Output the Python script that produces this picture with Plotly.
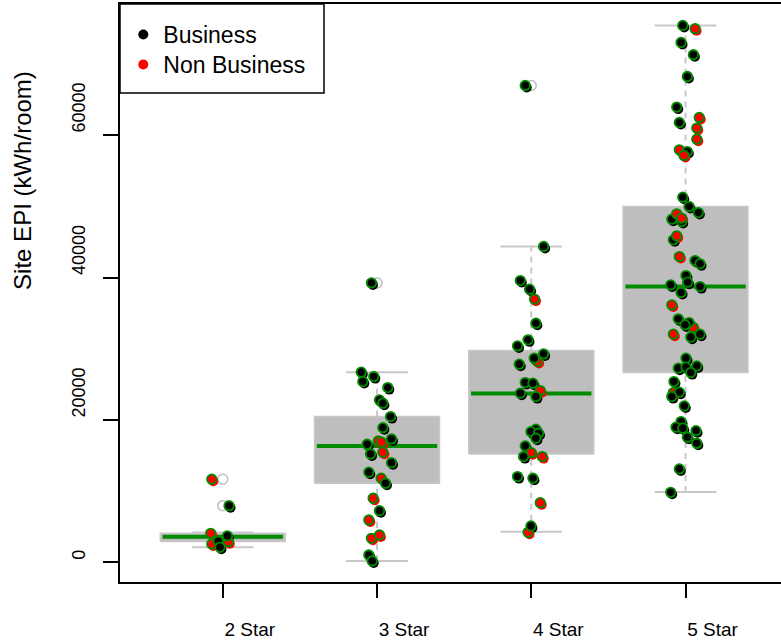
import plotly.graph_objects as go

# ---------------- data ----------------
categories = ["2 Star", "3 Star", "4 Star", "5 Star"]
positions = [1, 2, 3, 4]

# boxplot statistics per category
box_q1 = [2950, 11130, 15250, 26670]
box_median = [3625, 16370, 23720, 38760]
box_q3 = [4100, 20490, 29760, 50000]
whisker_low = [2135, 210, 4330, 9910]
whisker_high = [4200, 26730, 44380, 75430]

# outliers drawn by the boxplot (open grey circles)
outlier_pos = [1, 1, 2, 3]
outlier_value = [11690, 7980, 39270, 67000]

# jittered points: jitter (category units), value, group (B = Business, N = Non Business)
star2_jitter = [-0.071, 0.041, -0.078, -0.071, 0.036, 0.030, -0.029, -0.018]
star2_value = [11690, 7980, 4100, 2600, 2920, 3730, 3020, 2135]
star2_group = ["N", "B", "N", "N", "N", "B", "B", "B"]

star3_jitter = [-0.036, -0.102, -0.092, -0.021, 0.070, 0.016, 0.038, 0.088, 0.038, 0.094,
                -0.064, -0.042, 0.008, 0.029, 0.038, 0.094, -0.053, 0.027, 0.055, -0.025,
                0.016, -0.053, -0.036, 0.016, -0.053, -0.031]
star3_value = [39270, 26730, 25410, 26110, 24560, 22830, 22370, 20490, 18940, 17350,
               16610, 15250, 17070, 16900, 15490, 14020, 12680, 11830, 11130, 9020,
               7280, 5970, 3400, 3860, 1050, 210]
star3_group = ["B", "B", "B", "B", "B", "B", "B", "B", "B", "B",
               "B", "B", "N", "N", "N", "B", "B", "N", "B", "N",
               "B", "N", "N", "N", "B", "B"]

star4_jitter = [-0.039, 0.080, -0.071, -0.011, 0.021, 0.030, -0.021, -0.089, 0.041, 0.080,
                0.019, -0.078, -0.039, 0.011, 0.058, -0.071, 0.030, 0.030, -0.002, 0.047,
                0.030, -0.039, 0.000, -0.050, 0.071, -0.089, 0.011, 0.058, -0.021, -0.002]
star4_value = [67000, 44380, 39600, 38390, 36990, 33610, 31270, 30420, 28220, 29300,
               28690, 27850, 25270, 25180, 24140, 23780, 23300, 18720, 18380, 18150,
               17450, 16370, 15430, 14870, 14870, 12060, 11830, 8400, 4240, 5130]
star4_group = ["B", "B", "B", "B", "N", "B", "B", "B", "N", "B",
               "B", "B", "B", "B", "N", "B", "B", "B", "B", "B",
               "B", "B", "N", "B", "N", "B", "B", "N", "N", "B"]

star5_jitter = [-0.018, 0.062, -0.029, 0.051, 0.012, -0.057, -0.040, 0.089, 0.073, 0.073,
                -0.040, 0.012, -0.010, -0.018, 0.023, 0.083, -0.089, -0.025, -0.057, -0.025,
                -0.079, -0.057, -0.040, 0.062, 0.094, 0.003, 0.014, -0.096, 0.094, -0.029,
                -0.089, 0.051, -0.047, 0.023, -0.003, -0.079, 0.034, 0.094, 0.003, -0.047,
                0.003, 0.073, 0.034, -0.075, -0.079, -0.040, -0.089, -0.008, -0.029, -0.062,
                -0.018, 0.068, 0.012, 0.073, -0.040, -0.096]
star5_value = [75430, 74970, 73040, 71310, 68260, 63960, 61800, 62500, 61010, 59460,
               57960, 57720, 57160, 51310, 50000, 49150, 48220, 47890, 48970, 48370,
               45320, 45880, 42970, 42410, 41950, 40300, 39370, 38990, 38750, 37910,
               36180, 32990, 34220, 33700, 33370, 32060, 31640, 32060, 28690, 27290,
               27430, 27610, 26670, 25410, 23860, 23920, 23300, 21990, 19790, 19000,
               18860, 18520, 17590, 16750, 13140, 9860]
star5_group = ["B", "N", "B", "B", "B", "B", "B", "N", "N", "N",
               "N", "B", "N", "B", "B", "B", "B", "B", "N", "N",
               "B", "N", "N", "B", "B", "B", "B", "B", "B", "B",
               "N", "N", "B", "B", "B", "N", "B", "B", "B", "B",
               "B", "B", "B", "B", "N", "B", "B", "B", "B", "B",
               "B", "B", "B", "B", "B", "B"]

group_names = {"B": "Business", "N": "Non Business"}
group_colors = {"B": "black", "N": "red"}

y_ticks = [0, 20000, 40000, 60000]

# ---------------- style ----------------
FONT = "Liberation Sans, Arial, sans-serif"
W, H = 781, 641
M_L, M_R, M_T, M_B = 120, 0, 4, 59
X_RANGE = [0.334, 4.619]
Y_RANGE = [-2740, 78440]
BOX_HALF = 0.405
CAP_HALF = 0.2
GREY = "#BEBEBE"
GREY_LINE = "#C8C8C8"
GREEN = "#008B00"

plot_w = W - M_L - M_R
plot_h = H - M_T - M_B
px_x = (X_RANGE[1] - X_RANGE[0]) / plot_w
px_y = (Y_RANGE[1] - Y_RANGE[0]) / plot_h
SHADOW_DX = 1.5 * px_x
SHADOW_DY = 2.0 * px_y

# y tick labels start at their tick (R-style): pad short labels invisibly to equal length
max_len = max(len(str(v)) for v in y_ticks)
y_ticktext = [str(v) + ("<span style='color:rgba(0,0,0,0)'>" + "0" * (max_len - len(str(v))) + "</span>"
                        if len(str(v)) < max_len else "")
              for v in y_ticks]

# gather points
px_all, py_all, pg_all = [], [], []
for pos, jit, val, grp in [(1, star2_jitter, star2_value, star2_group),
                           (2, star3_jitter, star3_value, star3_group),
                           (3, star4_jitter, star4_value, star4_group),
                           (4, star5_jitter, star5_value, star5_group)]:
    for j, v, g in zip(jit, val, grp):
        px_all.append(pos + j)
        py_all.append(v)
        pg_all.append(g)

fig = go.Figure()

# boxes
bx, by = [], []
for p, a, b in zip(positions, box_q1, box_q3):
    bx += [p - BOX_HALF, p + BOX_HALF, p + BOX_HALF, p - BOX_HALF, p - BOX_HALF, None]
    by += [a, a, b, b, a, None]
fig.add_trace(go.Scatter(x=bx, y=by, mode="lines", fill="toself", fillcolor=GREY,
                         line=dict(color=GREY_LINE, width=1.5), showlegend=False,
                         hoverinfo="skip"))

# whiskers (dashed)
wx, wy = [], []
for p, a, b, lo, hi in zip(positions, box_q1, box_q3, whisker_low, whisker_high):
    wx += [p, p, None, p, p, None]
    wy += [lo, a, None, b, hi, None]
fig.add_trace(go.Scatter(x=wx, y=wy, mode="lines",
                         line=dict(color=GREY_LINE, width=2, dash="6px,5px"),
                         showlegend=False, hoverinfo="skip"))

# staples
sx, sy = [], []
for p, lo, hi in zip(positions, whisker_low, whisker_high):
    sx += [p - CAP_HALF, p + CAP_HALF, None, p - CAP_HALF, p + CAP_HALF, None]
    sy += [lo, lo, None, hi, hi, None]
fig.add_trace(go.Scatter(x=sx, y=sy, mode="lines", line=dict(color=GREY_LINE, width=2),
                         showlegend=False, hoverinfo="skip"))

# medians
mx, my = [], []
for p, m in zip(positions, box_median):
    mx += [p - BOX_HALF + 0.015, p + BOX_HALF - 0.015, None]
    my += [m, m, None]
fig.add_trace(go.Scatter(x=mx, y=my, mode="lines", line=dict(color=GREEN, width=4),
                         showlegend=False, hoverinfo="skip"))

# outliers
fig.add_trace(go.Scatter(x=outlier_pos, y=outlier_value, mode="markers",
                         marker=dict(symbol="circle-open", size=10, color=GREY,
                                     line=dict(width=1.5, color=GREY)),
                         showlegend=False, hoverinfo="skip"))

# point shadows (also the legend entries)
for g, leg in [("B", "legend"), ("N", "legend2")]:
    xs = [x + SHADOW_DX for x, gg in zip(px_all, pg_all) if gg == g]
    ys = [y - SHADOW_DY for y, gg in zip(py_all, pg_all) if gg == g]
    fig.add_trace(go.Scatter(x=xs, y=ys, mode="markers", name=group_names[g], legend=leg,
                             marker=dict(size=10, color=group_colors[g], line=dict(width=0)),
                             hoverinfo="skip"))

# points
fig.add_trace(go.Scatter(x=px_all, y=py_all, mode="markers",
                         marker=dict(size=9.5, color=[group_colors[g] for g in pg_all],
                                     line=dict(width=1.8, color=GREEN)),
                         showlegend=False,
                         text=[group_names[g] for g in pg_all]))

legend_common = dict(x=0.005, xanchor="left", yanchor="top",
                     bgcolor="rgba(0,0,0,0)", borderwidth=0,
                     font=dict(size=23, family=FONT, color="black"))

fig.update_layout(
    width=W, height=H,
    margin=dict(l=M_L, r=M_R, t=M_T, b=M_B, autoexpand=False),
    paper_bgcolor="white", plot_bgcolor="white",
    font=dict(family=FONT, color="black", size=19),
    showlegend=True,
    legend=dict(y=0.9844, **legend_common),
    legend2=dict(y=0.9325, **legend_common),
    xaxis=dict(range=X_RANGE, tickmode="array", tickvals=positions, ticktext=categories,
               showline=True, linecolor="black", linewidth=2, mirror=True,
               ticks="outside", ticklen=14, tickwidth=1.5, tickcolor="black",
               showgrid=False, zeroline=False, automargin=False,
               tickfont=dict(size=19, family=FONT, color="black"),
               ticklabelshift=27, ticklabelstandoff=15),
    yaxis=dict(range=Y_RANGE, tickmode="array", tickvals=y_ticks,
               ticktext=y_ticktext,
               showline=True, linecolor="black", linewidth=2, mirror=False,
               ticks="outside", ticklen=15, tickwidth=1.5, tickcolor="black",
               showgrid=False, zeroline=False, tickangle=-90, automargin=False,
               tickfont=dict(size=18, family=FONT, color="black"),
               ticklabelshift=-25, ticklabelstandoff=11),
    shapes=[dict(type="rect", xref="paper", yref="paper", x0=0, x1=0.3086, y0=0.846, y1=1.0,
                 line=dict(color="black", width=1.5), fillcolor="rgba(0,0,0,0)")],
    annotations=[dict(text="Site EPI (kWh/room)", xref="paper", yref="paper",
                      x=-0.1467, y=0.694, xanchor="center", yanchor="middle",
                      textangle=-90, showarrow=False,
                      font=dict(size=24, family=FONT, color="black"))],
)

fig.write_html("out.html", config={"displayModeBar": False},
               post_script="document.body.style.margin='0';document.body.style.padding='0';")
